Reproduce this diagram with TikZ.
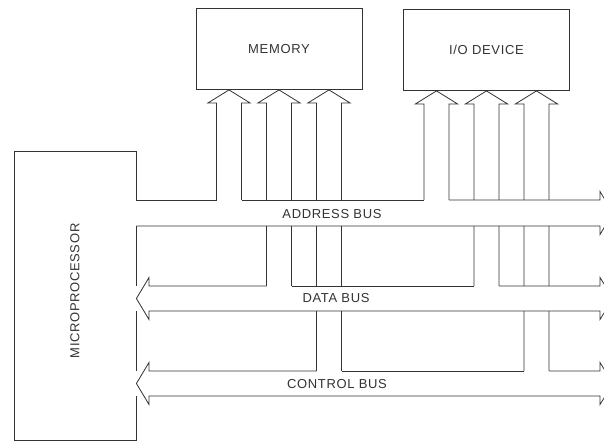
\documentclass[tikz,border=0pt]{standalone}
\usepackage{fontspec}
\setmainfont{Liberation Sans}[LetterSpace=5]
\usepackage{tikz}
\usetikzlibrary{calc}

\begin{document}
\begin{tikzpicture}[x=1pt,y=-1pt,line width=0.8pt,color=black!80,
    font=\fontsize{13}{15}\selectfont,
    unit/.style={draw,minimum width=166pt,minimum height=81pt,inner sep=0pt}]
  \clip (0,0) rectangle (604,442);

  % Helper macro: hollow arrow up into a unit. #1 unit, #2 x offset, #3 bus top y, #4 name
  \newcommand{\busfeed}[4]{%
    \path ($(#1.south)+(#2,0)$) coordinate (tip) ++(-12.5,13) coordinate (l) ++(25,0) coordinate (r);
    \path (l |- 0,#3) coordinate (#4-l) (r |- 0,#3) coordinate (#4-r);
    \draw (#4-l) -- (l) -- ++(-8.5,0) -- (tip) -- ($(r)+(8.5,0)$) -- (r) -- (#4-r);
  }

  \node[unit] (mem) at (279,49) {MEMORY};
  \node[unit] (io) at (486.5,50) {I/O DEVICE};
  \node[draw,minimum width=122pt,minimum height=289pt,inner sep=0pt] (cpu) at (75,295.5) {};
  \node[rotate=90] (cpulbl) at (75,291) {MICROPROCESSOR};

  % feeds: address, data, control
  \busfeed{mem}{-50}{200}{ma}
  \busfeed{mem}{0}{286}{md}
  \busfeed{mem}{50}{371}{mc}
  \busfeed{io}{-50}{200}{ia}
  \busfeed{io}{0}{286}{id}
  \busfeed{io}{50}{371}{ic}

  % bus bands hide the crossing shafts
  \fill[white] (cpu.east |- 0,200) rectangle (604,226);
  \fill[white] (cpu.east |- 0,286) rectangle (604,311);
  \fill[white] (cpu.east |- 0,371) rectangle (604,396);

  % address bus, one way out of the processor
  \draw (cpu.east |- 0,200) -- (ma-l);
  \draw (ma-r) -- (ia-l);
  \draw (ia-r) -- (600,200) -- ++(0,-8.5) -- (613,213) -- (600,234.5) -- (600,226) -- (cpu.east |- 0,226);

  % data bus, both ways
  \draw (md-r) -- (id-l);
  \draw (id-r) -- (600,286) -- ++(0,-8.5) -- (613,298.5) -- (600,319.5) -- (600,311) -- (149,311)
    -- (149,319.5) -- (cpu.east |- 0,298.5) -- (149,277.5) -- (149,286) -- (md-l);

  % control bus, both ways
  \draw (mc-r) -- (ic-l);
  \draw (ic-r) -- (600,371) -- ++(0,-8.5) -- (613,383.5) -- (600,404.5) -- (600,396) -- (149,396)
    -- (149,404.5) -- (cpu.east |- 0,383.5) -- (149,362.5) -- (149,371) -- (mc-l);

  \node (addrlbl) at (332,214) {ADDRESS BUS};
  \node (datalbl) at (336,298.5) {DATA BUS};
  \node (ctrllbl) at (337,384) {CONTROL BUS};
\end{tikzpicture}
\end{document}
